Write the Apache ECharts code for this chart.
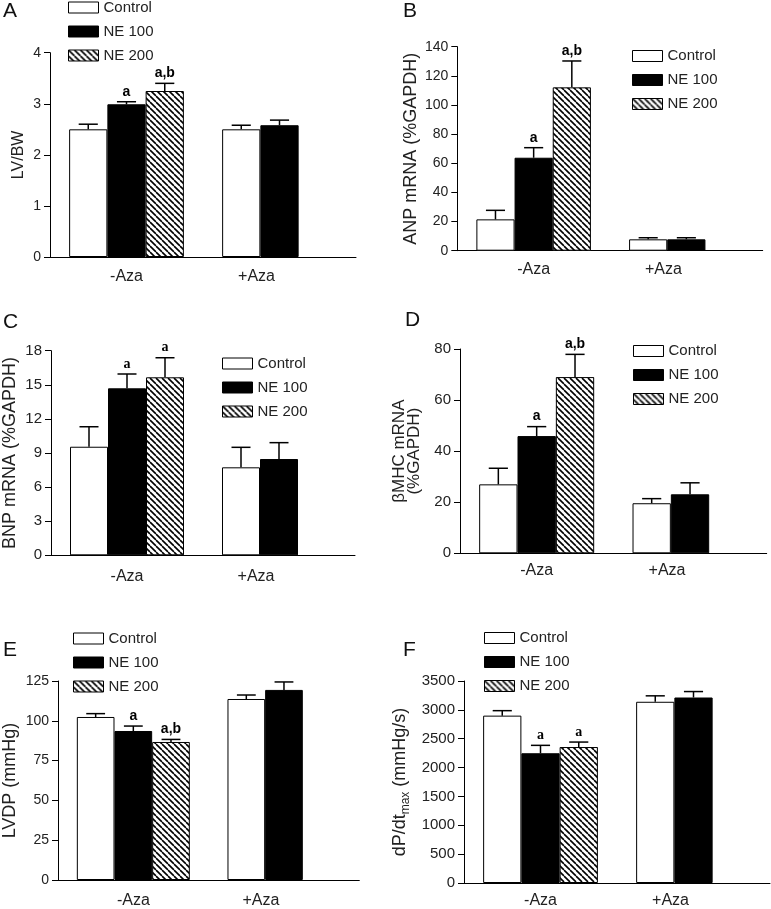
<!DOCTYPE html>
<html>
<head>
<meta charset="utf-8">
<script src="https://cdn.jsdelivr.net/npm/echarts@6/dist/echarts.min.js"></script>
<style>html,body{margin:0;padding:0;background:#fff}#c{width:771px;height:909px}</style>
</head>
<body>
<div id="c"></div>
<script>
// ---------- data ----------
const categories = ['-Aza', '+Aza'];
const groupNames = ['Control', 'NE 100', 'NE 200'];

// A: LV/BW
const lvbwControl = [2.50, 2.50];
const lvbwNE100 = [2.99, 2.58];
const lvbwNE200 = [3.25, null];
const lvbwControlSem = [0.10, 0.08];
const lvbwNE100Sem = [0.05, 0.10];
const lvbwNE200Sem = [0.15, null];
const lvbwSig = [['', ''], ['a', ''], ['a,b', '']];
const lvbwTicks = [0, 1, 2, 3, 4];

// B: ANP mRNA
const anpControl = [21.5, 7.8];
const anpNE100 = [63.8, 7.8];
const anpNE200 = [112.1, null];
const anpControlSem = [6.2, 1.1];
const anpNE100Sem = [6.9, 1.1];
const anpNE200Sem = [18.1, null];
const anpSig = [['', ''], ['a', ''], ['a,b', '']];
const anpTicks = [0, 20, 40, 60, 80, 100, 120, 140];

// C: BNP mRNA
const bnpControl = [9.55, 7.74];
const bnpNE100 = [14.69, 8.47];
const bnpNE200 = [15.66, null];
const bnpControlSem = [1.76, 1.76];
const bnpNE100Sem = [1.26, 1.44];
const bnpNE200Sem = [1.72, null];
const bnpSig = [['', ''], ['a', ''], ['a', '']];
const bnpTicks = [0, 3, 6, 9, 12, 15, 18];

// D: beta-MHC mRNA
const mhcControl = [27.0, 19.6];
const mhcNE100 = [45.9, 23.1];
const mhcNE200 = [69.0, null];
const mhcControlSem = [6.3, 1.8];
const mhcNE100Sem = [3.7, 4.5];
const mhcNE200Sem = [8.9, null];
const mhcSig = [['', ''], ['a', ''], ['a,b', '']];
const mhcTicks = [0, 20, 40, 60, 80];

// E: LVDP
const lvdpControl = [102.4, 113.7];
const lvdpNE100 = [93.6, 119.4];
const lvdpNE200 = [86.7, null];
const lvdpControlSem = [2.1, 2.5];
const lvdpNE100Sem = [3.1, 5.0];
const lvdpNE200Sem = [1.6, null];
const lvdpSig = [['', ''], ['a', ''], ['a,b', '']];
const lvdpTicks = [0, 25, 50, 75, 100, 125];

// F: dP/dt max
const dpdtControl = [2900, 3140];
const dpdtNE100 = [2248, 3214];
const dpdtNE200 = [2356, null];
const dpdtControlSem = [86, 103];
const dpdtNE100Sem = [137, 103];
const dpdtNE200Sem = [86, null];
const dpdtSig = [['', ''], ['a', ''], ['a', '']];
const dpdtTicks = [0, 500, 1000, 1500, 2000, 2500, 3000, 3500];

// ---------- styles ----------
const FONT = "'Liberation Sans', Arial, sans-serif";
const SERIF = "'Liberation Serif', 'Times New Roman', serif";

function hatchPattern() {
  const cv = document.createElement('canvas');
  cv.width = 6; cv.height = 6;
  const ctx = cv.getContext('2d');
  ctx.fillStyle = '#fff';
  ctx.fillRect(0, 0, 6, 6);
  ctx.strokeStyle = '#000';
  ctx.lineWidth = 1.6;
  for (const k of [-6, 0, 6]) {
    ctx.beginPath();
    ctx.moveTo(k, 0);
    ctx.lineTo(k + 6, 6);
    ctx.stroke();
  }
  return cv;
}
const hatch = { image: hatchPattern(), repeat: 'repeat' };
const fills = ['#ffffff', '#000000', hatch];

const panels = [
  { letter: 'A', means: [lvbwControl, lvbwNE100, lvbwNE200], sems: [lvbwControlSem, lvbwNE100Sem, lvbwNE200Sem], sig: lvbwSig, ticks: lvbwTicks,
    yName: 'LV/BW', nameSize: 16, nameGap: 23, tickFont: 14, sigFont: FONT, xMargin: 12,
    grid: { left: 50, top: 52.7, width: 306, height: 204.3 }, legend: { left: 68, top: 0 }, title: { left: 3, top: 1 } },
  { letter: 'B', means: [anpControl, anpNE100, anpNE200], sems: [anpControlSem, anpNE100Sem, anpNE200Sem], sig: anpSig, ticks: anpTicks,
    yName: 'ANP mRNA (%GAPDH)', nameSize: 18, nameGap: 37, tickFont: 14, sigFont: FONT, xMargin: 11,
    grid: { left: 457.3, top: 46.7, width: 305.4, height: 204 }, legend: { left: 632, top: 48.5 }, title: { left: 403, top: 1 } },
  { letter: 'C', means: [bnpControl, bnpNE100, bnpNE200], sems: [bnpControlSem, bnpNE100Sem, bnpNE200Sem], sig: bnpSig, ticks: bnpTicks,
    yName: 'BNP mRNA (%GAPDH)', nameSize: 18, nameGap: 32, tickFont: 15, sigFont: SERIF, xMargin: 13,
    grid: { left: 50, top: 350.7, width: 305, height: 204.6 }, legend: { left: 222, top: 356 }, title: { left: 3, top: 312 } },
  { letter: 'D', means: [mhcControl, mhcNE100, mhcNE200], sems: [mhcControlSem, mhcNE100Sem, mhcNE200Sem], sig: mhcSig, ticks: mhcTicks,
    yName: 'βMHC mRNA\n(%GAPDH)', nameSize: 17, nameLH: 15, nameGap: 38, tickFont: 15, sigFont: FONT, xMargin: 9,
    grid: { left: 460, top: 349, width: 306.7, height: 204.3 }, legend: { left: 633, top: 343.5 }, title: { left: 405, top: 310 } },
  { letter: 'E', means: [lvdpControl, lvdpNE100, lvdpNE200], sems: [lvdpControlSem, lvdpNE100Sem, lvdpNE200Sem], sig: lvdpSig, ticks: lvdpTicks,
    yName: 'LVDP (mmHg)', nameSize: 18, nameGap: 39, tickFont: 14, sigFont: FONT, xMargin: 13,
    grid: { left: 53.3, top: 681, width: 306, height: 203.3 }, legend: { left: 73, top: 631 }, title: { left: 3, top: 640 } },
  { letter: 'F', means: [dpdtControl, dpdtNE100, dpdtNE200], sems: [dpdtControlSem, dpdtNE100Sem, dpdtNE200Sem], sig: dpdtSig, ticks: dpdtTicks,
    yName: '{m|dP/dt}{s|max}{m| (mmHg/s)}', nameSize: 18, nameGap: 52, tickFont: 15, sigFont: SERIF, xMargin: 10,
    grid: { left: 464, top: 681, width: 306, height: 204 }, legend: { left: 484, top: 630.5 }, title: { left: 403, top: 640 } }
];

const option = { backgroundColor: '#fff', animation: false, grid: [], xAxis: [], yAxis: [], series: [], legend: [], title: [] };

panels.forEach((p, i) => {
  option.grid.push(Object.assign({ containLabel: false }, p.grid));
  option.title.push({ text: p.letter, left: p.title.left, top: p.title.top, padding: 0,
    textStyle: { fontFamily: FONT, fontSize: 21, fontWeight: 'normal', color: '#111' } });
  option.legend.push({
    orient: 'vertical', left: p.legend.left, top: p.legend.top, padding: 0,
    data: groupNames, icon: 'rect', itemWidth: 30, itemHeight: 11, itemGap: 9, selectedMode: false,
    itemStyle: { borderColor: '#000', borderWidth: 1 },
    textStyle: { fontFamily: FONT, fontSize: 15, lineHeight: 15, color: '#222' }
  });
  option.xAxis.push({
    type: 'category', gridIndex: i, data: categories,
    axisLine: { lineStyle: { color: '#000', width: 1 } },
    axisTick: { show: false },
    axisLabel: {
      fontFamily: FONT, fontSize: 16, color: '#222', margin: p.xMargin,
      formatter: (v, idx) => idx === 1 ? '{s|' + v + '}' : v,
      rich: { s: { fontFamily: FONT, fontSize: 16, color: '#222', padding: [0, 46, 0, 0] } }
    }
  });
  const t = p.ticks;
  const nameStyle = { fontFamily: FONT, fontSize: p.nameSize, color: '#222' };
  if (p.nameLH) nameStyle.lineHeight = p.nameLH;
  if (p.letter === 'F') {
    nameStyle.rich = {
      m: { fontFamily: FONT, fontSize: 18, color: '#222' },
      s: { fontFamily: FONT, fontSize: 12, color: '#222', verticalAlign: 'bottom', padding: [12, 0, 0, 0] }
    };
  }
  option.yAxis.push({
    type: 'value', gridIndex: i, min: t[0], max: t[t.length - 1], interval: t[1] - t[0],
    axisLine: { show: true, lineStyle: { color: '#000', width: 1 } },
    axisTick: { show: true, length: 6, lineStyle: { color: '#000' } },
    splitLine: { show: false },
    axisLabel: { fontFamily: FONT, fontSize: p.tickFont, color: '#222', margin: 9, formatter: v => String(v) },
    name: p.yName, nameLocation: 'middle', nameGap: p.nameGap, nameRotate: 90,
    nameTextStyle: nameStyle
  });
  p.means.forEach((vals, s) => {
    option.series.push({
      type: 'bar', name: groupNames[s], xAxisIndex: i, yAxisIndex: i, data: vals,
      barGap: '0%', barCategoryGap: '25%',
      itemStyle: { color: fills[s], borderColor: '#000', borderWidth: 1 },
      emphasis: { disabled: true }
    });
  });
  const errData = [], errLabels = [];
  p.means.forEach((vals, s) => {
    vals.forEach((v, c) => {
      if (v == null) return;
      errData.push([c, v, p.sems[s][c], s]);
      errLabels.push(p.sig[s][c]);
    });
  });
  option.series.push({
    type: 'custom', xAxisIndex: i, yAxisIndex: i, data: errData, z: 10, silent: true,
    renderItem: (params, api) => {
      const cat = api.value(0), m = api.value(1), e = api.value(2), s = api.value(3);
      const base = api.coord([cat, m]);
      const top = api.coord([cat, m + e]);
      const band = api.size([1, 0])[0];
      const bw = band * 0.75 / 3;
      const x = base[0] + (s - 1) * bw;
      const cap = bw / 4;
      const children = [
        { type: 'line', shape: { x1: x, y1: base[1], x2: x, y2: top[1] }, style: { stroke: '#000', lineWidth: 1.5 } },
        { type: 'line', shape: { x1: x - cap, y1: top[1], x2: x + cap, y2: top[1] }, style: { stroke: '#000', lineWidth: 1.5 } }
      ];
      const lab = errLabels[params.dataIndex];
      if (lab) {
        children.push({ type: 'text', x: x, y: top[1] - 3,
          style: { text: lab, align: 'center', verticalAlign: 'bottom', fontFamily: p.sigFont, fontSize: 14, fontWeight: 'bold', fill: '#000' } });
      }
      return { type: 'group', children };
    }
  });
});

const chart = echarts.init(document.getElementById('c'), null, { renderer: 'canvas' });
chart.setOption(option);
</script>
</body>
</html>
